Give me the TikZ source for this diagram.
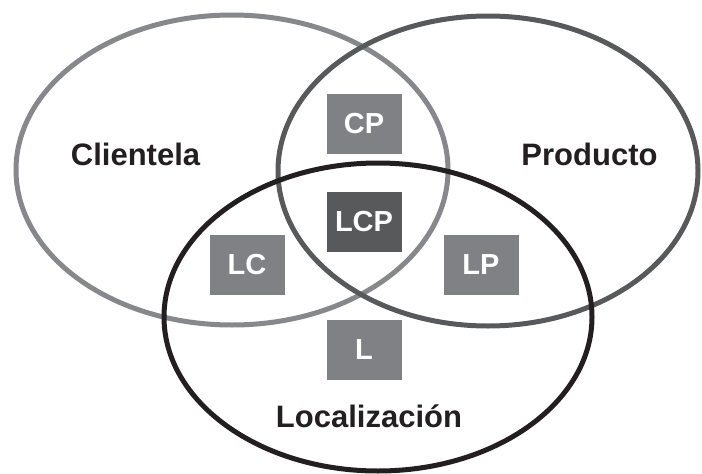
\documentclass[tikz,border=0pt]{standalone}
\usepackage{fontspec}
\setmainfont{Liberation Sans}
\definecolor{cgray}{HTML}{87888C}
\definecolor{pgray}{HTML}{58595B}
\definecolor{lblack}{HTML}{231F20}
\definecolor{boxgray}{HTML}{808185}
\definecolor{boxdark}{HTML}{58595B}
\tikzset{
  ring/.style={line width=5pt},
  region/.style={fill=boxgray, text=white, minimum width=75pt, minimum height=60pt, inner sep=0pt,
    font=\fontsize{29}{29}\selectfont\bfseries},
  setlabel/.style={text=lblack, anchor=base, inner sep=0pt, font=\fontsize{31}{31}\selectfont\bfseries}
}
\begin{document}
\begin{tikzpicture}[x=1pt,y=-1pt]
\useasboundingbox (0,0) rectangle (702,474);
\draw[ring, cgray] (232,170) ellipse [x radius=216pt, y radius=155pt];
\draw[ring, pgray] (488,171) ellipse [x radius=210pt, y radius=155pt];
\draw[ring, lblack] (378,317) ellipse [x radius=214pt, y radius=154pt];
\node[region] (cp) at (364,124) {CP};
\node[region, fill=boxdark] (lcp) at (364,222) {LCP};
\node[region] (lc) at (247,265) {LC};
\node[region] (lp) at (481,265) {LP};
\node[region] (l) at (364,350) {L};
\node[setlabel] (cli) at (135.5,165) {Clientela};
\node[setlabel] (pro) at (589.5,165) {Producto};
\node[setlabel] (loc) at (369,427) {Localización};
\end{tikzpicture}
\end{document}
